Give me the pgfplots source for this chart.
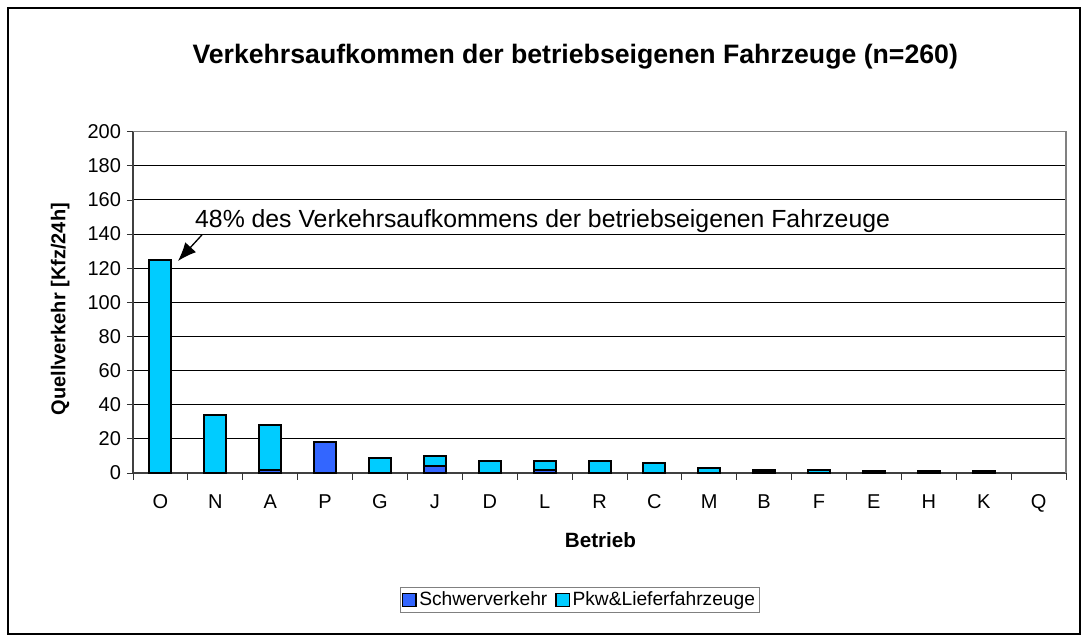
\documentclass[border=0pt]{standalone}
\usepackage{fontspec}
\setmainfont{Liberation Sans}
\usepackage{pgfplots}
\pgfplotsset{compat=1.18}
\usetikzlibrary{arrows.meta}
\definecolor{schwer}{HTML}{3366FF}
\definecolor{pkw}{HTML}{00CCFF}

\begin{document}
\begin{tikzpicture}
% whole image and the outer frame (1 px = 0.75pt, origin at the axis corner)
\path (-99.75pt,-125.25pt) rectangle (716.25pt,354.75pt);
\draw[line width=0.9pt] (-93.75pt,-120.75pt) rectangle (710.25pt,348.75pt);
\begin{axis}[
  at={(0,0)},anchor=south west,
  scale only axis,width=699.75pt,height=256pt,
  ybar stacked,bar width=16.5pt,
  xmin=-0.5,xmax=16.5,ymin=0,ymax=200,
  ytick={0,20,...,200},
  xtick={0,...,16},
  xticklabels={O,N,A,P,G,J,D,L,R,C,M,B,F,E,H,K,Q},
  major x tick style={draw=none},
  extra x ticks={-0.5,0.5,...,16.5},extra x tick labels={},
  extra x tick style={major x tick style={draw=black!80,line width=0.6pt},major tick length=5pt,tick align=outside,grid=none},
  tick align=outside,major tick length=4.5pt,
  axis x line*=bottom,axis y line*=left,
  axis line style={line width=1pt,black!75,-},
  ymajorgrids,grid style={black,line width=0.75pt},
  tick style={black!80,line width=0.6pt},
  tick label style={font=\fontsize{15}{18}\selectfont,/pgf/number format/assume math mode=true},
  xticklabel style={yshift=-8pt},
  yticklabel style={xshift=-1pt},
  xlabel={Betrieb},ylabel={Quellverkehr [Kfz/24h]},
  every axis x label/.style={at={(rel axis cs:0.501,-0.198)},anchor=center,font=\fontsize{15.5}{18}\selectfont\bfseries},
  every axis y label/.style={at={(rel axis cs:-0.078,0.48)},rotate=90,anchor=center,font=\fontsize{15}{18}\selectfont\bfseries},
  legend style={at={(rel axis cs:0.479,-0.372)},anchor=center,draw=gray,line width=0.9pt,
    font=\fontsize{14.4}{17}\selectfont,legend columns=2,inner xsep=1.5pt,inner ysep=1.5pt,
    /tikz/every even column/.append style={column sep=4pt}},
  legend image code/.code={\draw[#1,draw=black,line width=0.9pt] (0pt,-5pt) rectangle (10pt,5pt);},
  clip=false,
]
\addplot+[fill=schwer,draw=black,line width=1.5pt] coordinates {
(0,0) (1,0) (2,2) (3,18) (4,0) (5,4) (6,0) (7,2) (8,0) (9,0) (10,0) (11,1) (12,0) (13,0) (14,0) (15,0) (16,0)};
\addplot+[fill=pkw,draw=black,line width=1.5pt] coordinates {
(0,125) (1,34) (2,26) (3,0) (4,9) (5,6) (6,7) (7,5) (8,7) (9,6) (10,3) (11,1) (12,2) (13,1) (14,1) (15,1) (16,0)};
\legend{Schwerverkehr,Pkw\&Lieferfahrzeuge}
\draw[gray,line width=1pt] (rel axis cs:0,1) -- (rel axis cs:1,1) -- (rel axis cs:1,0);
\draw[-{Latex[length=14pt,width=11pt]},line width=1pt] (axis cs:0.756,139.5) -- (axis cs:0.319,124.2);
\node[anchor=base west,font=\fontsize{18.6}{22}\selectfont,inner sep=0pt] at (axis cs:0.628,143.6) {48\% des Verkehrsaufkommens der betriebseigenen Fahrzeuge};
\node[anchor=center,font=\fontsize{20}{24}\selectfont\bfseries,inner sep=0pt] at (rel axis cs:0.474,1.219) {Verkehrsaufkommen der betriebseigenen Fahrzeuge (n=260)};
\end{axis}
\end{tikzpicture}
\end{document}
